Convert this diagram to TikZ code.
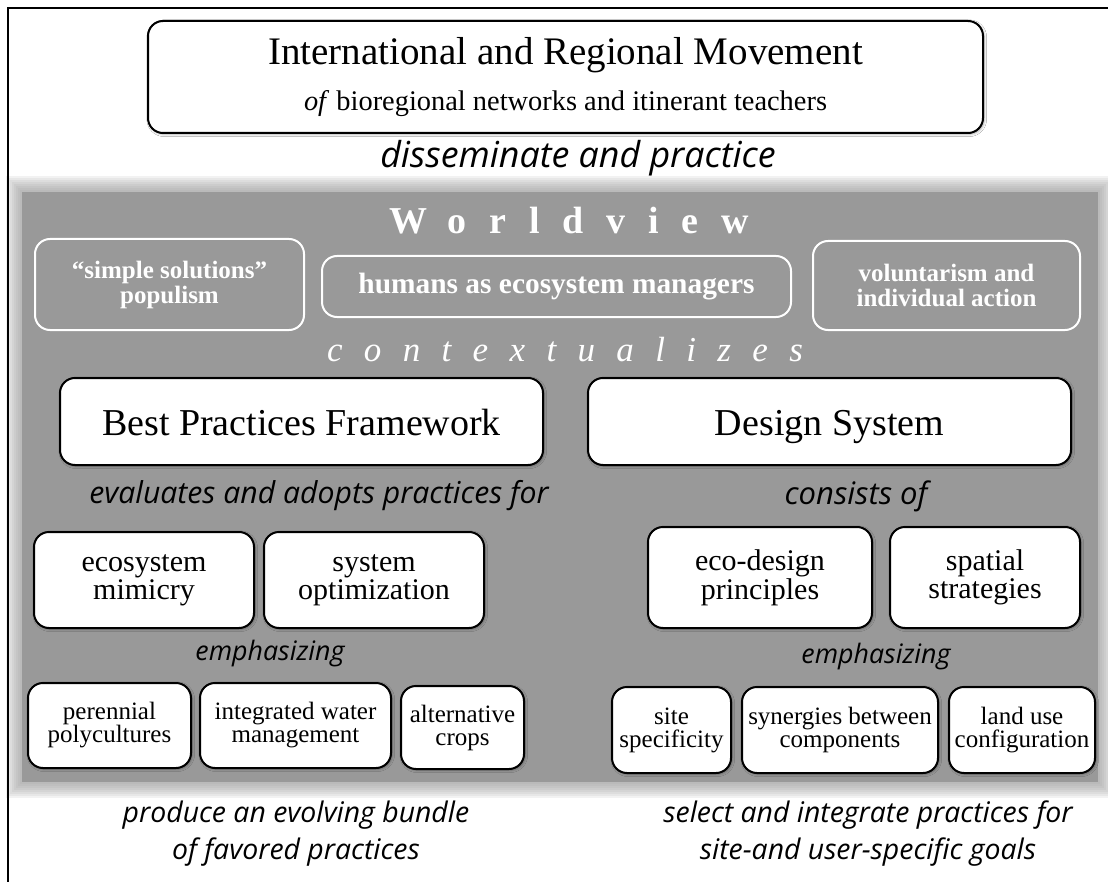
\documentclass[tikz,border=0pt]{standalone}
\usepackage{fontspec}
\setmainfont{Liberation Serif}
\newfontfamily\phrasefont{Open Sans}
\usetikzlibrary{shadows.blur}
\definecolor{bandgray}{gray}{0.6}

\tikzset{
  box/.style={draw=black, line width=1pt, fill=white, rounded corners=7.5pt,
    align=center, inner sep=0pt,
    blur shadow={shadow xshift=0.6pt, shadow yshift=-0.6pt,
      shadow blur radius=1.2pt, shadow opacity=35}},
  bigbox/.style={box, minimum width=241.5pt, minimum height=43.5pt,
    text height=15pt, text depth=1.5pt, font=\fontsize{19}{22}\selectfont},
  wvbox/.style={draw=white, line width=1pt, rounded corners=7.5pt,
    align=center, inner sep=0pt, text=white,
    font=\bfseries\fontsize{12.5}{12.5}\selectfont},
  phrase/.style={font=\phrasefont\itshape\fontsize{14.2}{18.5}\selectfont, align=center},
  midbox/.style={box, font=\fontsize{15}{13}\selectfont},
  smallbox/.style={box, font=\fontsize{12.5}{11.5}\selectfont},
}

\begin{document}
\begin{tikzpicture}[x=0.5pt, y=-0.5pt]
  \useasboundingbox (0,0) rectangle (1108,882);
  \fill[white] (0,0) rectangle (1108,882);

  % gray band with soft edges
  \foreach \d in {2,4,...,16}
    \fill[bandgray, opacity=0.12] (22-\d,192-\d) rectangle (1098+\d,782+\d);
  \fill[bandgray] (22,192) rectangle (1098,782);

  % frame
  \draw[line width=1.2pt] (8,882) -- (8,8) -- (1108,8);

  \node[box, minimum width=417.5pt, minimum height=56pt] (movement) at (565.5,77)
    {\fontsize{19.5}{22}\selectfont International and Regional Movement\\[8pt]
     \fontsize{14.2}{16}\selectfont\textit{of} bioregional networks and itinerant teachers};
  \node[phrase, font=\phrasefont\itshape\fontsize{17.9}{20}\selectfont] (disseminate) at (578,158) {disseminate and practice};

  % worldview
  \node[text=white, font=\bfseries\fontsize{19}{22}\selectfont\addfontfeatures{LetterSpace=60}] (worldview) at (569,221) {Worldview};
  \node[wvbox, minimum width=134.5pt, minimum height=45.5pt] (simple) at (169.5,284.5) {``simple solutions''\\populism};
  \node[wvbox, minimum width=234.5pt, minimum height=30.5pt, font=\bfseries\fontsize{14.7}{16}\selectfont] (managers) at (556.5,286.5) {humans as ecosystem managers};
  \node[wvbox, minimum width=133.5pt, minimum height=44.5pt] (voluntarism) at (946.5,285.5) {voluntarism and\\individual action};
  \node[text=white, font=\itshape\fontsize{17.5}{20}\selectfont\addfontfeatures{LetterSpace=61}] (context) at (565,350) {contextualizes};

  % framework and design system
  \node[bigbox] (bpf) at (301.5,421.5) {Best Practices Framework};
  \node[bigbox] (ds) at (829.5,421.5) {Design System};
  \node[phrase, font=\phrasefont\itshape\fontsize{15.1}{18}\selectfont] (evaluates) at (319,496) {evaluates and adopts practices for};
  \node[phrase, font=\phrasefont\itshape\fontsize{15.5}{18}\selectfont] (consists) at (856,496) {consists of};

  \node[midbox, minimum width=110pt, minimum height=48pt] (mimicry) at (144,580) {ecosystem\\mimicry};
  \node[midbox, minimum width=110pt, minimum height=48pt] (sysopt) at (374,580) {system\\optimization};
  \node[midbox, minimum width=112pt, minimum height=50.5pt] (ecodesign) at (760,577.5) {eco-design\\principles};
  \node[midbox, minimum width=95pt, minimum height=50.5pt] (spatial) at (985,577.5) {spatial\\strategies};

  \node[phrase, font=\phrasefont\itshape\fontsize{13.4}{16}\selectfont] (emphL) at (270,654) {emphasizing};
  \node[phrase, font=\phrasefont\itshape\fontsize{13.4}{16}\selectfont] (emphR) at (876,657) {emphasizing};

  \node[smallbox, minimum width=81.5pt, minimum height=42.5pt] (perennial) at (109.5,725.5) {perennial\\polycultures};
  \node[smallbox, minimum width=95.5pt, minimum height=42.5pt] (water) at (295.5,725.5) {integrated water\\management};
  \node[smallbox, minimum width=61.5pt, minimum height=41.5pt] (altcrops) at (462.5,727.5) {alternative\\crops};
  \node[smallbox, minimum width=59.5pt, minimum height=43pt] (site) at (671.5,730) {site\\specificity};
  \node[smallbox, minimum width=98pt, minimum height=43pt] (synergies) at (840,730) {synergies between\\components};
  \node[smallbox, minimum width=73pt, minimum height=43pt] (landuse) at (1022,730) {land use\\configuration};

  % outcomes
  \node[phrase] (bundle) at (296,834) {produce an evolving bundle\\of favored practices};
  \node[phrase, font=\phrasefont\itshape\fontsize{14.2}{18.5}\selectfont] (goals) at (868,834) {select and integrate practices for\\site-and user-specific goals};
\end{tikzpicture}
\end{document}
